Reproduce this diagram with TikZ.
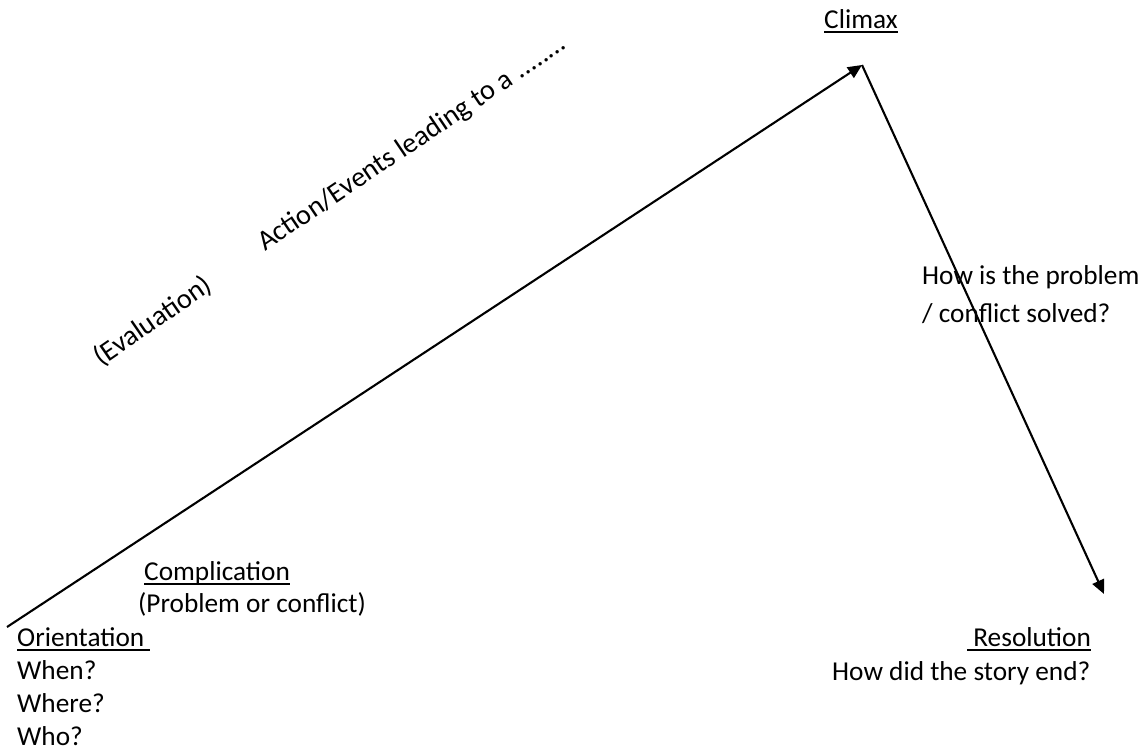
\documentclass[tikz,border=0pt]{standalone}
\usepackage{fontspec}
\setmainfont{Carlito}
\usetikzlibrary{positioning,arrows.meta}
\tikzstyle{storyPlot} = [x = 1pt, y = -1pt]
\tikzstyle{storyLine} = [line width = 2.1pt, -{Triangle[length = 14pt, width = 12.5pt]}]
\tikzstyle{labelText} = [inner sep = 0pt, anchor = base west, font = \fontsize{27.3}{33.3}\selectfont]
\tikzstyle{slopeText} = [labelText, rotate = 34, font = \fontsize{28.4}{34}\selectfont]
\newcommand{\underText}[1]{\setbox0=\hbox{#1}\rlap{\vrule height -3.2pt depth 5pt width \wd0}\box0}

\begin{document}
\begin{tikzpicture}[storyPlot]
  \useasboundingbox (0,0) rectangle (1146,753);
  % turning points of the story
  \coordinate (startPt) at (7,627);
  \coordinate (climaxPt) at (862,65);
  \coordinate (resolutionPt) at (1104,594);
  \draw [storyLine] (startPt) -- (climaxPt);
  \draw [storyLine] (climaxPt) -- (resolutionPt);
  % labels
  \node [labelText, anchor = base] (climax) at (861,28) {\underText{Climax}};
  \node [slopeText, rotate = 0.6] (evaluation) at (101,367) {(Evaluation)};
  \node [slopeText] (action) at (265,252) {Action/Events leading to a ........};
  \node [labelText] (complication) at (144,580) {\underText{Complication}};
  \node [labelText] (problem) at (138,612) {(Problem or conflict)};
  \node [labelText] (orientation) at (17,646) {\underText{Orientation\ }};
  \foreach \question [count = \i] in {When?, Where?, Who?} {
    \node [labelText] (question\i) at (17, 646 + 33.2 * \i) {\question};
  }
  \node [labelText] (solvedA) at (922,284) {How is the problem};
  \node [labelText] (solvedB) at (922,322) {/ conflict solved?};
  \node [labelText] (resolution) at (967,646) {\underText{\ Resolution}};
  \node [labelText] (storyEnd) at (832,680) {How did the story end?};
\end{tikzpicture}
\end{document}
